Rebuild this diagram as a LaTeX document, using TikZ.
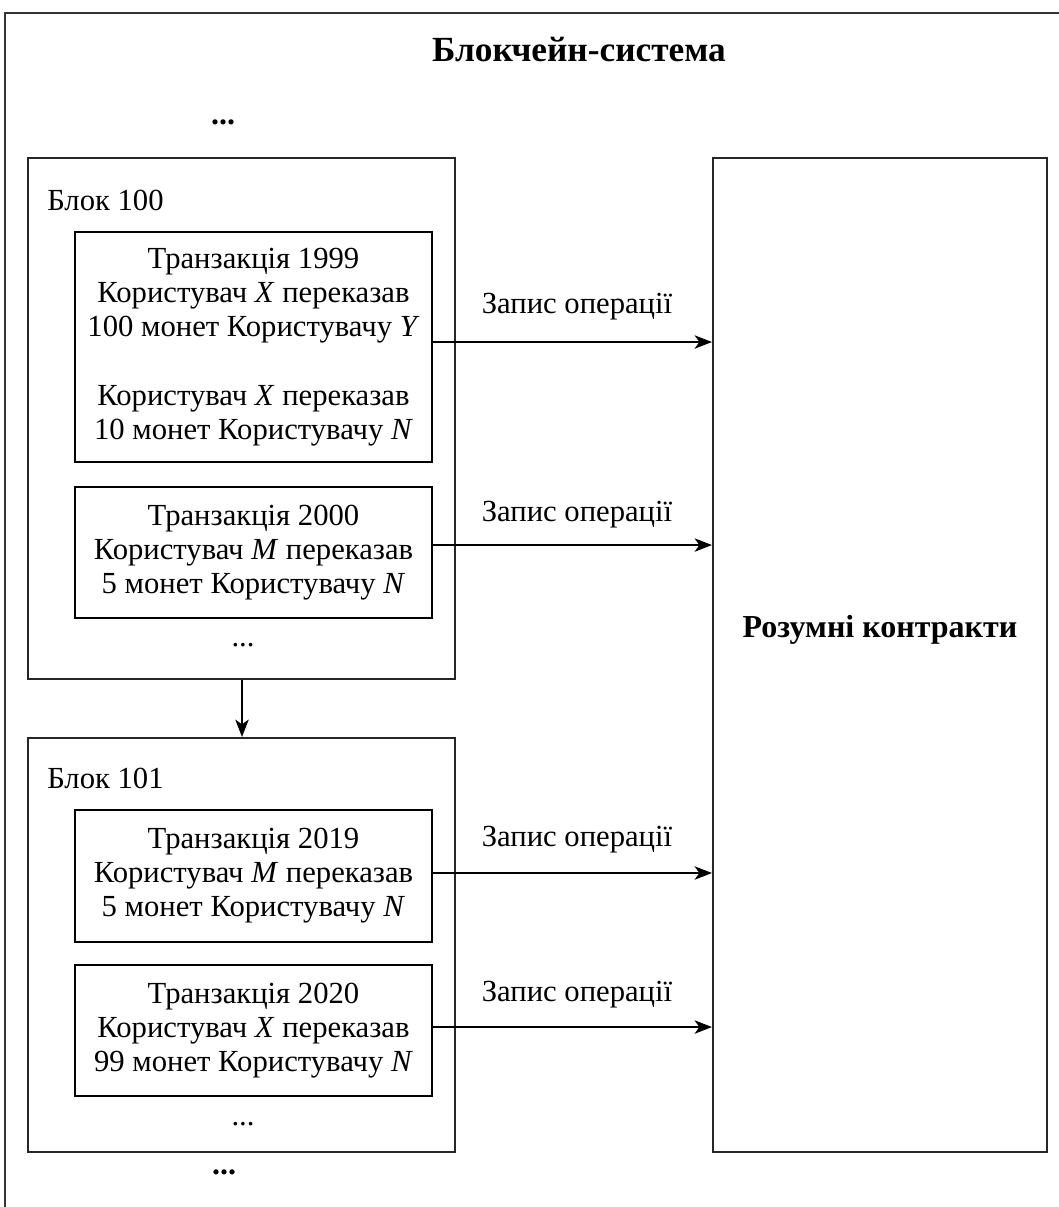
\documentclass[tikz,border=0pt]{standalone}
\usepackage{fontspec}
\setmainfont{Liberation Serif}
\usetikzlibrary{arrows.meta}
\tikzset{
  frame/.style={draw=black!80, line width=1.6pt},
  blockbox/.style={draw=black!85, line width=1.5pt, minimum width=320.25pt, inner sep=0pt},
  txbox/.style={draw=black, line width=1.5pt, minimum width=267.75pt, align=center, inner sep=0pt, font=\fontsize{23pt}{25.5pt}\selectfont},
  lbl/.style={font=\fontsize{23pt}{25.5pt}\selectfont, inner sep=0pt},
  ttl/.style={font=\fontsize{26.5pt}{30pt}\selectfont\bfseries, inner sep=0pt},
  cttl/.style={font=\fontsize{24pt}{28pt}\selectfont\bfseries, inner sep=0pt},
  arr/.style={line width=1.5pt, -{Stealth[length=13pt,width=10pt,inset=3.5pt]}}
}
\begin{document}
\begin{tikzpicture}[x=0.75pt,y=-0.75pt]
\useasboundingbox (0,0) rectangle (1059,1207);
\fill[white] (0,0) rectangle (1059,1207);
% outer frame (cut off at right and bottom)
\coordinate (fbl) at (5,1207);
\coordinate (ftl) at (5,13);
\coordinate (ftr) at (1059,13);
\draw[frame] (fbl) -- (ftl) -- (ftr);

\node[ttl] (title) at (579,50) {Блокчейн-система};
\node[cttl] (dtop) at (223,122) {...};
\node[cttl] (dbot) at (224,1172) {...};

% block 100
\node[blockbox, minimum height=390.75pt] (b100) at (241.5,418.5) {};
\node[lbl, anchor=west] (b100l) at (47,200) {Блок 100};
\node[txbox, minimum height=172.5pt] (t1) at (253.5,347) {Транзакція 1999\\Користувач \textit{X} переказав\\100 монет Користувачу \textit{Y}\\[26pt]Користувач \textit{X} переказав\\10 монет Користувачу \textit{N}};
\node[txbox, minimum height=98.25pt] (t2) at (253.5,552.5) {Транзакція 2000\\Користувач \textit{M} переказав\\5 монет Користувачу \textit{N}};
\node[lbl] (d100) at (243,645) {...};

% block 101
\node[blockbox, minimum height=310.5pt] (b101) at (241.5,945) {};
\node[lbl, anchor=west] (b101l) at (47,778) {Блок 101};
\node[txbox, minimum height=99pt] (t3) at (253.5,876) {Транзакція 2019\\Користувач \textit{M} переказав\\5 монет Користувачу \textit{N}};
\node[txbox, minimum height=98.25pt] (t4) at (253.5,1030.5) {Транзакція 2020\\Користувач \textit{X} переказав\\99 монет Користувачу \textit{N}};
\node[lbl] (d101) at (243,1124) {...};

% smart contracts
\node[draw=black!85, line width=1.5pt, minimum width=250.5pt, minimum height=745.5pt, inner sep=0pt] (ct) at (880,655) {};
\node[cttl] (ctl) at (880,630) {Розумні контракти};

% block link
\draw[arr] (b100.south -| 242,0) -- (b101.north -| 242,0);

% operation arrows
\draw[arr] ([yshift=3.75pt]t1.east) -- ([yshift=3.75pt]t1.east -| ct.west);
\draw[arr] ([yshift=5.6pt]t2.east) -- ([yshift=5.6pt]t2.east -| ct.west);
\draw[arr] ([yshift=2.25pt]t3.east) -- ([yshift=2.25pt]t3.east -| ct.west);
\draw[arr] ([yshift=2.6pt]t4.east) -- ([yshift=2.6pt]t4.east -| ct.west);

\node[lbl] (op1) at (577,307) {Запис операції};
\node[lbl] (op2) at (577,515) {Запис операції};
\node[lbl] (op3) at (577,840) {Запис операції};
\node[lbl] (op4) at (577,995) {Запис операції};
\end{tikzpicture}
\end{document}
